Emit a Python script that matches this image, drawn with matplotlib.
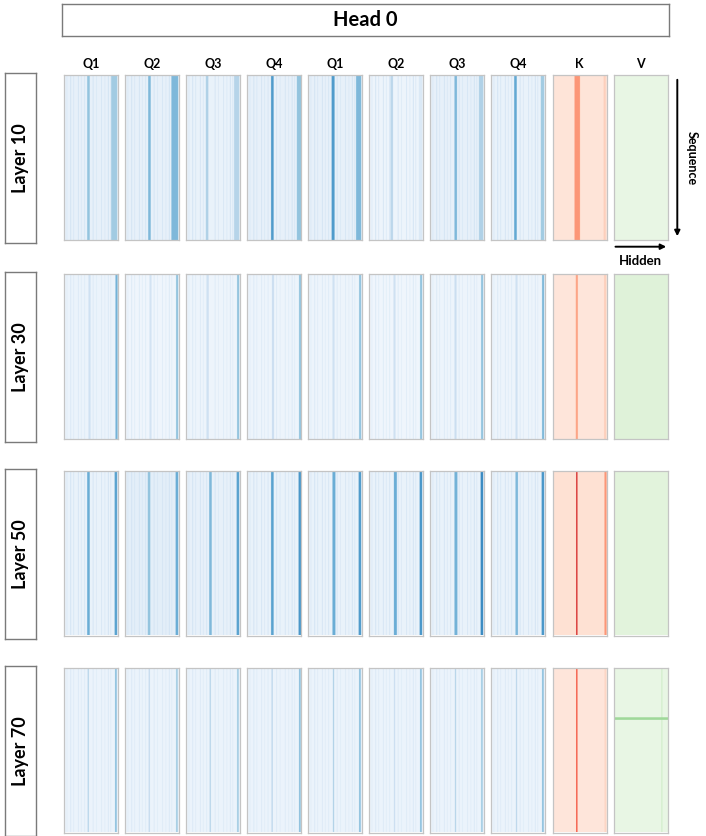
import numpy as np
import matplotlib
matplotlib.use("Agg")
import matplotlib.pyplot as plt
from matplotlib.patches import FancyArrowPatch

plt.rcParams['font.family'] = ['Lato', 'DejaVu Sans']

# ---------------- data ----------------
title = "Head 0"
layers = [10, 30, 50, 70]
panel_labels = ["Q1", "Q2", "Q3", "Q4", "Q1", "Q2", "Q3", "Q4", "K", "V"]
panel_cmaps = ["Blues"] * 8 + ["Reds", "Greens"]
hidden = 128
seq = 256

# background level of each panel (rows = layers, cols = panels)
base_level = [
    [0.08, 0.08, 0.07, 0.08, 0.08, 0.05, 0.08, 0.07, 0.10, 0.10],
    [0.06, 0.04, 0.05, 0.05, 0.05, 0.04, 0.05, 0.05, 0.09, 0.15],
    [0.07, 0.10, 0.08, 0.07, 0.07, 0.07, 0.07, 0.07, 0.12, 0.14],
    [0.06, 0.06, 0.06, 0.06, 0.06, 0.06, 0.06, 0.06, 0.09, 0.10],
]
# strength of the main stripe (~0.47 of hidden width)
main_stripe = [
    [0.40, 0.45, 0.32, 0.58, 0.58, 0.28, 0.45, 0.52, 0.36, 0.0],
    [0.20, 0.18, 0.20, 0.22, 0.20, 0.20, 0.22, 0.20, 0.32, 0.0],
    [0.50, 0.40, 0.45, 0.55, 0.50, 0.50, 0.48, 0.45, 0.72, 0.0],
    [0.30, 0.26, 0.30, 0.28, 0.32, 0.22, 0.30, 0.28, 0.58, 0.0],
]
main_col = [
    [55, 55, 47, 56, 56, 51, 58, 55, 51, 0],
    [58, 58, 49, 58, 58, 58, 58, 58, 54, 0],
    [55, 54, 55, 56, 58, 59, 58, 58, 55, 0],
    [56, 56, 56, 57, 59, 59, 59, 59, 55, 0],
]
main_width = [
    [6, 6, 6, 6, 7, 6, 6, 6, 13, 0],
    [5, 5, 5, 5, 5, 5, 5, 5, 5, 0],
    [6, 6, 6, 6, 7, 7, 7, 6, 3, 0],
    [3, 3, 3, 3, 3, 3, 3, 3, 3, 0],
]
# strength of the right-edge stripe (~0.95 of hidden width)
right_stripe = [
    [0.36, 0.45, 0.30, 0.40, 0.45, 0.14, 0.32, 0.36, 0.18, 0.0],
    [0.48, 0.40, 0.40, 0.40, 0.40, 0.40, 0.40, 0.45, 0.18, 0.0],
    [0.55, 0.50, 0.55, 0.60, 0.58, 0.60, 0.65, 0.60, 0.36, 0.0],
    [0.42, 0.36, 0.36, 0.42, 0.42, 0.42, 0.36, 0.42, 0.16, 0.20],
]
right_col = [
    [112, 110, 114, 116, 114, 118, 116, 118, 120, 0],
    [122, 121, 121, 121, 121, 121, 121, 121, 121, 0],
    [120, 120, 120, 120, 120, 120, 120, 120, 122, 0],
    [121, 121, 121, 121, 121, 121, 121, 121, 122, 112],
]
right_width = [
    [14, 16, 12, 12, 12, 8, 10, 8, 5, 0],
    [5, 5, 5, 5, 5, 5, 5, 5, 5, 0],
    [6, 6, 6, 6, 6, 6, 6, 6, 5, 0],
    [4, 4, 4, 4, 4, 4, 4, 4, 4, 3],
]
# faint secondary stripes (columns and relative weight) shared by the Q panels
minor_cols = [6, 15, 22, 33, 40, 48, 68, 76, 88, 96, 104, 110]
minor_weight = [0.6, 1.0, 0.7, 0.9, 0.6, 0.8, 0.9, 0.6, 0.8, 0.6, 1.0, 0.7]
minor_level = [0.20, 0.15, 0.20, 0.15]
# horizontal band in V of layer 70 (row fraction, strength)
v_band_row = 0.305
v_band_strength = 0.38

# ---------------- layout (pixels) ----------------
W, H = 706, 836
fig = plt.figure(figsize=(W / 100, H / 100), dpi=100)


def fax(x, y, w, h):
    return fig.add_axes([x / W, 1 - (y + h) / H, w / W, h / H])


panel_x0, panel_dx, panel_w = 64.0, 61.07, 54.0
row_y0 = [75.3, 274.3, 471.0, 668.0]
panel_h = 164.5

for r, layer in enumerate(layers):
    for c, lab in enumerate(panel_labels):
        b0 = base_level[r][c]
        prof = np.full(hidden, b0)
        if c < 8:
            for mc, mw in zip(minor_cols, minor_weight):
                lvl = b0 + (minor_level[r] - b0) * mw
                prof[mc:mc + 2] = np.maximum(prof[mc:mc + 2], lvl)
        if main_stripe[r][c] > 0:
            a = main_col[r][c]
            prof[a:a + main_width[r][c]] = np.maximum(prof[a:a + main_width[r][c]], main_stripe[r][c])
        if right_stripe[r][c] > 0:
            a = right_col[r][c]
            prof[a:a + right_width[r][c]] = np.maximum(prof[a:a + right_width[r][c]], right_stripe[r][c])
        img = np.tile(prof, (seq, 1))
        if c == 9 and r == 3:
            b = int(v_band_row * seq)
            img[b:b + 4, :] = np.maximum(img[b:b + 4, :], v_band_strength)
        ax = fax(panel_x0 + c * panel_dx, row_y0[r], panel_w, panel_h)
        ax.imshow(img, cmap=panel_cmaps[c], vmin=0, vmax=1, aspect='auto',
                  interpolation='antialiased')
        ax.set_xticks([])
        ax.set_yticks([])
        for s in ax.spines.values():
            s.set_color('#c4c4c4')
            s.set_linewidth(0.9)
        if r == 0:
            fig.text((panel_x0 + c * panel_dx + panel_w / 2) / W, 1 - 64 / H, lab,
                     ha='center', va='center', fontsize=9, fontweight='bold')

    # layer label box
    bx = fax(5, row_y0[r] - 2, 30.7, 170)
    bx.set_xticks([])
    bx.set_yticks([])
    for s in bx.spines.values():
        s.set_color('#7a7a7a')
        s.set_linewidth(1.0)
    bx.text(0.5, 0.5, f"Layer {layer}", rotation=90, ha='center', va='center',
            fontsize=13, fontweight='bold', transform=bx.transAxes)

# title box
tx = fax(61.7, 4.3, 607.6, 31.4)
tx.set_xticks([])
tx.set_yticks([])
for s in tx.spines.values():
    s.set_color('#7a7a7a')
    s.set_linewidth(1.0)
tx.text(0.5, 0.5, title, ha='center', va='center', fontsize=14.5,
        fontweight='bold', transform=tx.transAxes)

# arrows
def fpt(x, y):
    return (x / W, 1 - y / H)

fig.patches.append(FancyArrowPatch(fpt(677.3, 77), fpt(677.3, 239), transform=fig.transFigure,
                                   arrowstyle='-|>', mutation_scale=8, lw=1.4, color='black'))
fig.patches.append(FancyArrowPatch(fpt(612.7, 246.7), fpt(669, 246.7), transform=fig.transFigure,
                                   arrowstyle='-|>', mutation_scale=8, lw=1.4, color='black'))
fig.text(691.5 / W, 1 - 158 / H, "Sequence", rotation=-90, ha='center', va='center',
         fontsize=9, fontweight='bold')
fig.text(640 / W, 1 - 261 / H, "Hidden", ha='center', va='center',
         fontsize=9.5, fontweight='bold')

fig.savefig("out.png", dpi=100)
